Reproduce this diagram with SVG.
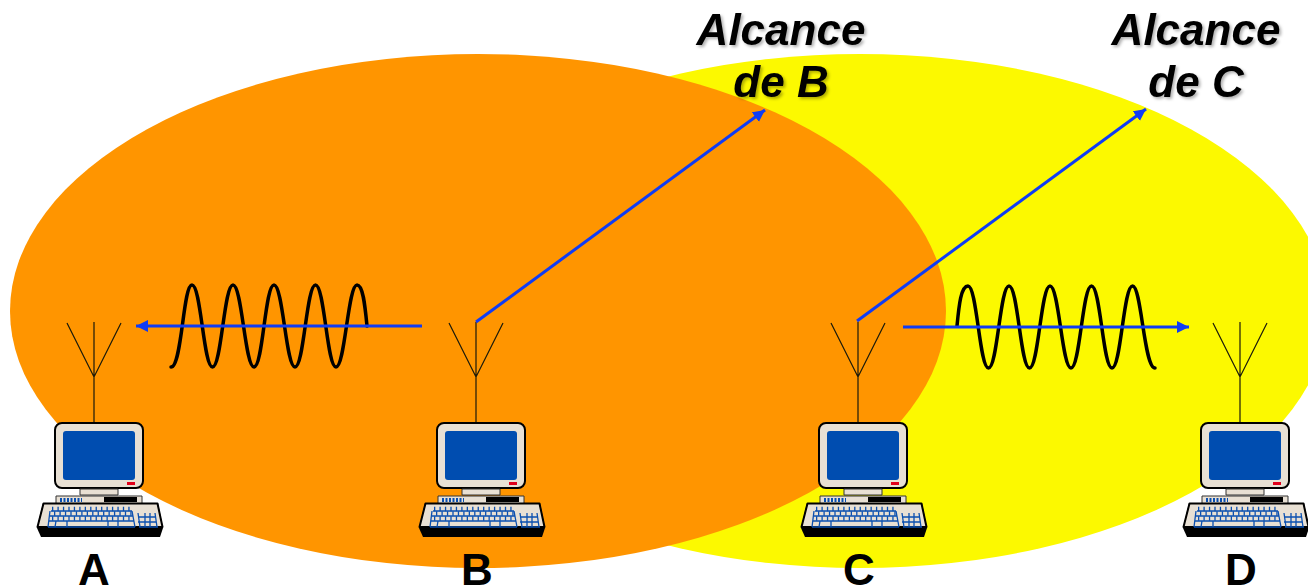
<svg xmlns="http://www.w3.org/2000/svg" width="1308" height="587" viewBox="0 0 1308 587">
<style>
.label{font-family:"Liberation Sans",Arial,sans-serif;font-weight:700;font-size:44px;text-anchor:middle;fill:#000}
.ital{font-style:italic;filter:url(#shadow)}
.arrow{fill:none;stroke:#0f3cf5;stroke-width:3;marker-end:url(#head)}
.wave{fill:none;stroke:#000;stroke-width:3.500;stroke-linecap:round}
.ant{fill:none;stroke:#1a1a0a;stroke-width:1.200}
.k{stroke:#0a4fb0;fill:none}
</style>
<defs>
<filter id="shadow" x="-10%" y="-10%" width="125%" height="130%"><feDropShadow dx="2" dy="2" stdDeviation="1.500" flood-color="#000" flood-opacity=".3"/></filter>
<marker id="head" markerUnits="userSpaceOnUse" markerWidth="14" markerHeight="13" refX="12" refY="6" orient="auto"><path d="M0 0L12 6L0 12Z" fill="#0f3cf5"/></marker>
<g id="computer">
<path class="ant" d="M94 322V423M67 323L94 377L121 323"/>
<rect x="55" y="423" width="88" height="65" rx="7" fill="#e8e0d4" stroke="#000" stroke-width="2"/>
<rect x="63" y="431" width="72" height="49" rx="3" fill="#004db0"/>
<rect x="127" y="482" width="8" height="3" fill="#e0001b"/>
<path d="M80 489H118V495H80Z" fill="#e8e0d4" stroke="#333" stroke-width="1"/>
<path d="M56 496H142V504H56Z" fill="#e8e0d4" stroke="#333" stroke-width="1"/>
<rect x="104" y="497" width="33" height="5" fill="#000"/>
<path class="k" d="M60 500H82" stroke-width="4" stroke-dasharray="2 1.500"/>
<path d="M37 528L43 503H158L163 528L160 537H41Z" fill="#000"/>
<path d="M37.500 527L43.500 503.500H157.500L162.500 527Z" fill="#e8e0d4" stroke="#000" stroke-width="2" stroke-linejoin="round"/>
<path class="k" stroke-width="1.300" d="M51 511H132M50 516H133M49 521H134M48 527H135M48 527L50 511M132 511L135 527M55 527L56 521M67 527V521M108 527V521M118 527V521"/>
<path class="k" stroke-width="4.500" stroke-dasharray="1.300 4.150" d="M52 509H132"/>
<path class="k" stroke-width="4.500" stroke-dasharray="1.300 4.150" d="M54 513.500H132"/>
<path class="k" stroke-width="4.500" stroke-dasharray="1.300 4.150" d="M52 518.500H132"/>
<path class="k" stroke-width="1.300" d="M138 513L140 527M145 513V527M150 513V527M155 513L157 527M138 517H155M138 522H156M139 527H158"/>
</g>
</defs>
<rect width="1308" height="587" fill="#fff"/>
<ellipse id="rangeC" cx="860" cy="311" rx="468" ry="257" fill="#fcf900"/>
<ellipse id="rangeB" cx="478" cy="311" rx="468" ry="257" fill="#ff9500"/>
<g id="nodeA"><use href="#computer"/><text class="label" x="94" y="585">A</text></g>
<g id="nodeB"><use href="#computer" x="382"/><text class="label" x="477" y="585">B</text></g>
<g id="nodeC"><use href="#computer" x="764"/><text class="label" x="859" y="585">C</text></g>
<g id="nodeD"><use href="#computer" x="1146"/><text class="label" x="1241" y="585">D</text></g>
<g id="waves">
<path class="wave" d="M367 326C365 305 363 285 357 285C348 285 345 367 336 367C327 367 324.500 285 315.500 285C306.500 285 304 367 295 367C286 367 283 285 274 285C265 285 263 367 254 367C245 367 242 285 233 285C224 285 221.500 367 212.500 367C203.500 367 201 285 192 285C183 285 182 367 171 367"/>
<path class="wave" d="M957 326C959 305 961 286 968 286C977 286 979.500 368 988.500 368C997.500 368 1000 286 1009 286C1018 286 1020.500 368 1029.500 368C1038.500 368 1041 286 1050 286C1059 286 1062 368 1071 368C1080 368 1082.500 286 1091.500 286C1100.500 286 1103 368 1112 368C1121 368 1123.500 286 1132.500 286C1141.500 286 1144 368 1155 368"/>
</g>
<g id="connectors">
<path class="arrow" d="M422 326H136"/>
<path class="arrow" d="M476 322L765 110"/>
<path class="arrow" d="M857 321L1146 109"/>
<path class="arrow" d="M903 327H1189"/>
</g>
<g id="labels">
<text class="label ital" x="781" y="45">Alcance</text>
<text class="label ital" x="781" y="97">de B</text>
<text class="label ital" x="1196" y="45">Alcance</text>
<text class="label ital" x="1196" y="97">de C</text>
</g>
</svg>
